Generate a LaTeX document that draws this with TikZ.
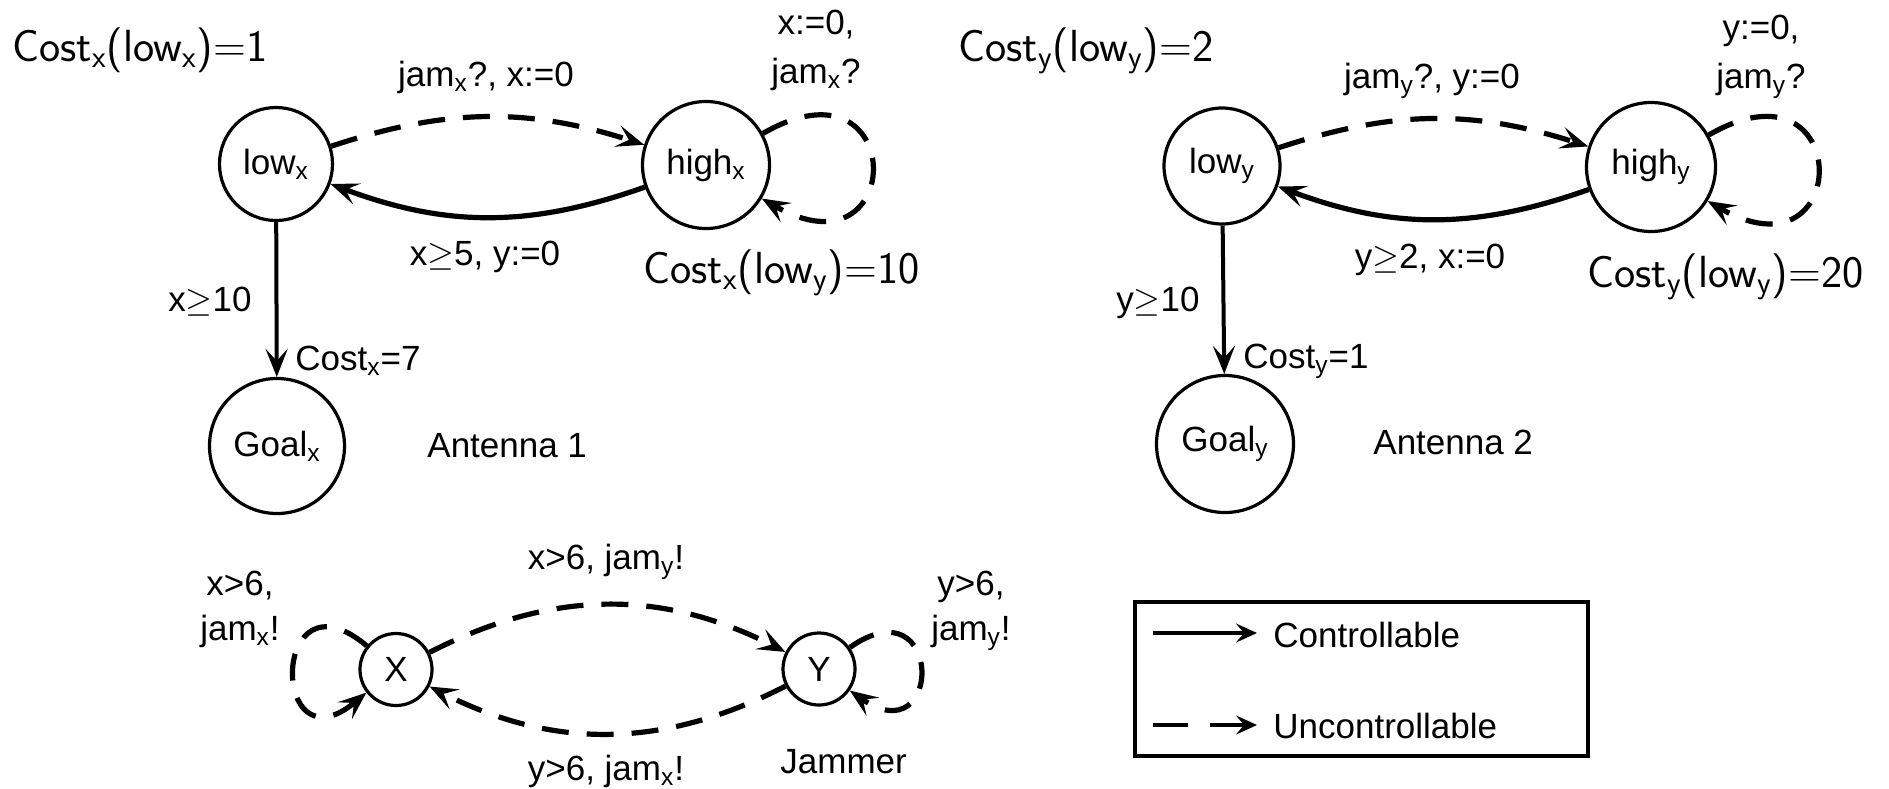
\documentclass[tikz,border=0pt]{standalone}
\usepackage{fontspec}
\setmainfont{Liberation Sans}
\usetikzlibrary{arrows.meta}
\newcommand{\sbs}[1]{\textsubscript{#1}}
\begin{document}
\begin{tikzpicture}[x=0.5pt,y=-0.5pt,
  state/.style={draw, circle, line width=1.6pt, inner sep=0pt, font=\fontsize{17.5}{24}\selectfont},
  lbl/.style={inner sep=0pt, font=\fontsize{17.5}{24}\selectfont},
  lbltwo/.style={inner sep=0pt, align=center, font=\fontsize{17.5}{24.5}\selectfont},
  lblthree/.style={inner sep=0pt, align=center, font=\fontsize{17.5}{22.5}\selectfont},
  costlbl/.style={inner sep=0pt, font=\sffamily\fontsize{22.5}{26}\selectfont},
  carrow/.style={line width=2.6pt, -{Stealth[length=14pt,width=11pt,inset=6pt]}},
  uarrow/.style={carrow, dash pattern=on 13.5pt off 9pt},
  varrow/.style={line width=2pt, -{Stealth[length=14pt,width=11pt,inset=6pt]}},
  legarrow/.style={line width=1.6pt, -{Stealth[length=10.5pt,width=9.5pt,inset=4pt]}}]
\useasboundingbox (0,0) rectangle (1889,788);

% ---------------- Antenna 1 ----------------
\node[state, minimum size=56.5pt] (lx) at (276,164) {low\sbs{x}};
\node[state, minimum size=63.5pt] (hx) at (706,165) {high\sbs{x}};
\node[state, minimum size=67.5pt] (gx) at (277,446) {Goal\sbs{x}};

\draw[uarrow] (lx) to[bend left=18] (hx);
\draw[carrow] (hx) to[bend left=20] (lx);
\draw[varrow] (lx) -- (gx);
\draw[uarrow] (hx.29) .. controls +(146,-84.5) and +(146,84.5) .. (hx.-31);

\node[costlbl, anchor=base west] (cxlx) at (12,61) {Cost\sbs{x}(low\sbs{x})=1};
\node[lbl, anchor=base] (jx) at (486,86) {jam\sbs{x}?, x:=0};
\node[lbltwo, anchor=base] (lpx) at (816,83) {x:=0,\\jam\sbs{x}?};
\node[lbl, anchor=base] (rx) at (485,265) {x$\geq$5, y:=0};
\node[costlbl, anchor=base west] (cxly) at (643,283) {Cost\sbs{x}(low\sbs{y})=10};
\node[lbl, anchor=base east] (gdx) at (252,311) {x$\geq$10};
\node[lbl, anchor=base west] (c7) at (295,370) {Cost\sbs{x}=7};
\node[lbl, anchor=base west] (a1) at (427,457) {Antenna 1};

% ---------------- Antenna 2 ----------------
\node[state, minimum size=58pt] (ly) at (1222,166) {low\sbs{y}};
\node[state, minimum size=64.5pt] (hy) at (1651,167) {high\sbs{y}};
\node[state, minimum size=68.5pt] (gy) at (1225,444) {Goal\sbs{y}};

\draw[uarrow] (ly) to[bend left=18] (hy);
\draw[carrow] (hy) to[bend left=20] (ly);
\draw[varrow] (ly) -- (gy);
\draw[uarrow] (hy.29) .. controls +(146,-84.5) and +(146,84.5) .. (hy.-31);

\node[costlbl, anchor=base west] (cyly) at (958,61) {Cost\sbs{y}(low\sbs{y})=2};
\node[lbl, anchor=base] (jy) at (1432,88) {jam\sbs{y}?, y:=0};
\node[lbltwo, anchor=base] (lpy) at (1761,88) {y:=0,\\jam\sbs{y}?};
\node[lbl, anchor=base] (ry) at (1430,268) {y$\geq$2, x:=0};
\node[costlbl, anchor=base west] (cyly2) at (1587,287) {Cost\sbs{y}(low\sbs{y})=20};
\node[lbl, anchor=base east] (gdy) at (1200,311) {y$\geq$10};
\node[lbl, anchor=base west] (c1) at (1243,368) {Cost\sbs{y}=1};
\node[lbl, anchor=base west] (a2) at (1373,454) {Antenna 2};

% ---------------- Jammer ----------------
\node[state, minimum size=36pt] (X) at (396,669.5) {X};
\node[state, minimum size=36pt] (Y) at (819,669) {Y};

\draw[uarrow] (X) to[bend left=27] (Y);
\draw[uarrow] (Y) to[bend left=27] (X);
\draw[uarrow] (X.141) .. controls +(-97,-81.4) and +(-97,81.4) .. (X.218);
\draw[uarrow] (Y.35) .. controls +(94.2,-66) and +(94.2,66) .. (Y.-35);

\node[lbl, anchor=base] (xy) at (606,569) {x>6, jam\sbs{y}!};
\node[lbl, anchor=base] (yx) at (606,780) {y>6, jam\sbs{x}!};
\node[lblthree, anchor=base] (lX) at (240,640) {x>6,\\jam\sbs{x}!};
\node[lblthree, anchor=base] (lY) at (971,640) {y>6,\\jam\sbs{y}!};
\node[lbl, anchor=base west] (jam) at (780,773) {Jammer};

% ---------------- Legend ----------------
\node[draw, line width=2pt, minimum width=226.5pt, minimum height=77pt, inner sep=0pt] (legend) at (1361.5,679) {};
\coordinate (cs) at (1153,633);
\coordinate (ce) at (1257,633);
\draw[legarrow] (cs) -- (ce);
\node[lbl, anchor=base west] (ctext) at (1273,647) {Controllable};
\coordinate (us) at (1153,725);
\coordinate (ue) at (1257,725);
\draw[legarrow, dash pattern=on 17.5pt off 11pt] (us) -- (ue);
\node[lbl, anchor=base west] (utext) at (1273,738) {Uncontrollable};
\end{tikzpicture}
\end{document}
